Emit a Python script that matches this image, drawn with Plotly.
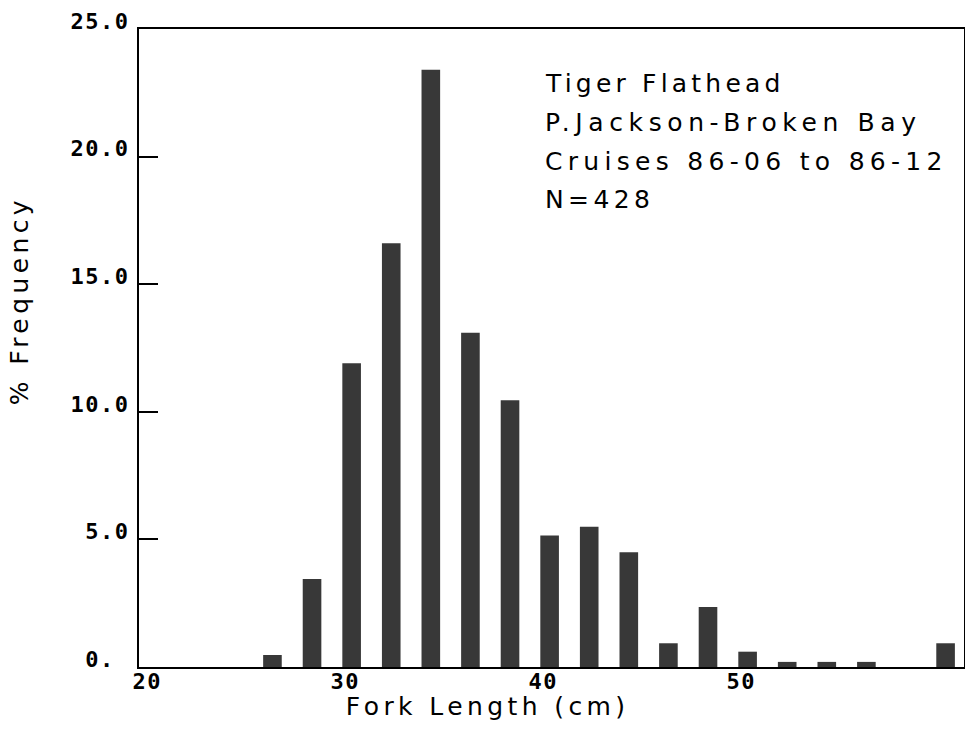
import plotly.graph_objects as go

# Data
bin_start_cm = [26, 28, 30, 32, 34, 36, 38, 40, 42, 44, 46, 48, 50, 52, 54, 56, 58, 60]
pct_frequency = [0.47, 3.45, 11.9, 16.6, 23.4, 13.1, 10.45, 5.15, 5.5, 4.5, 0.93, 2.35, 0.6, 0.2, 0.2, 0.2, 0.0, 0.93]

x_tick_vals = [20, 30, 40, 50]
x_tick_text = ["20", "30", "40", "50"]
y_tick_vals = [0, 5, 10, 15, 20, 25]
y_tick_text = ["0.\u00a0", "5.0", "10.0", "15.0", "20.0", "25.0"]

info_lines = ["Tiger Flathead", "P.Jackson-Broken Bay", "Cruises 86-06 to 86-12", "N=428"]
x_title = "Fork Length (cm)"
y_title = "% Frequency"

SANS = "DejaVu Sans"
MONO = "DejaVu Sans Mono"

fig = go.Figure()
fig.add_trace(go.Bar(
    x=bin_start_cm, y=pct_frequency,
    width=0.94, offset=0,
    marker=dict(color="#383838", line=dict(width=0)),
    hoverinfo="x+y",
))

annotations = []
line_y = [0.9138, 0.8542, 0.7931, 0.7320]
for txt, yy in zip(info_lines, line_y):
    annotations.append(dict(
        text=txt, xref="paper", yref="paper", x=0.4897, y=yy,
        xanchor="left", yanchor="middle", align="left", showarrow=False,
        font=dict(family=SANS, size=25, color="black"),
    ))
annotations.append(dict(
    text=x_title, xref="paper", yref="paper", x=(487.5 - 139) / 825, y=-0.0612,
    xanchor="center", yanchor="middle", align="center", showarrow=False,
    font=dict(family=SANS, size=25, color="black"),
))
annotations.append(dict(
    text=y_title, xref="paper", yref="paper", x=-0.1442, y=0.5737,
    xanchor="center", yanchor="middle", textangle=-90, showarrow=False,
    font=dict(family=SANS, size=25, color="black"),
))

xaxis = dict(
    range=[19.73, 61.40], tickmode="array", tickvals=x_tick_vals, ticktext=x_tick_text,
    ticks="", showline=True, linecolor="black", linewidth=2, mirror=True,
    showgrid=False, zeroline=False,
    tickfont=dict(family=MONO, size=22, color="black", weight="bold"),
    ticklabelshift=3,
)
yaxis = dict(
    range=[0, 25], tickmode="array", tickvals=y_tick_vals, ticktext=y_tick_text,
    ticks="inside", ticklen=19, tickwidth=2, tickcolor="black",
    showline=True, linecolor="black", linewidth=2, mirror=True,
    showgrid=False, zeroline=False,
    tickfont=dict(family=MONO, size=22, color="black", weight="bold"),
    ticklabelstandoff=3, ticklabelshift=-8,
)

fig.update_layout(
    width=965, height=738,
    margin=dict(l=139, r=1, t=29, b=71, autoexpand=False),
    plot_bgcolor="white", paper_bgcolor="white",
    showlegend=False,
    annotations=annotations,
    xaxis=xaxis, yaxis=yaxis,
)
try:
    fig.update_layout(xaxis_ticklabelstandoff=-6)
except Exception:
    fig.update_layout(xaxis_ticklabelstandoff=0)

post = """
var gd = document.getElementById('{plot_id}');
var sp = [4.2, 5.6, 5.3, 4.4, 4.4, 4.4];
gd.querySelectorAll('.annotation').forEach(function(g){
  var i = parseInt(g.getAttribute('data-index'));
  var s = (i >= 0 && i < sp.length) ? sp[i] : 4.4;
  g.querySelectorAll('.annotation-text').forEach(function(t){ t.style.letterSpacing = s + 'px'; });
});
gd.querySelectorAll('.xtick text, .ytick text').forEach(function(t){ t.style.letterSpacing = '1.5px'; });
"""

fig.write_html("out.html", post_script=post)
